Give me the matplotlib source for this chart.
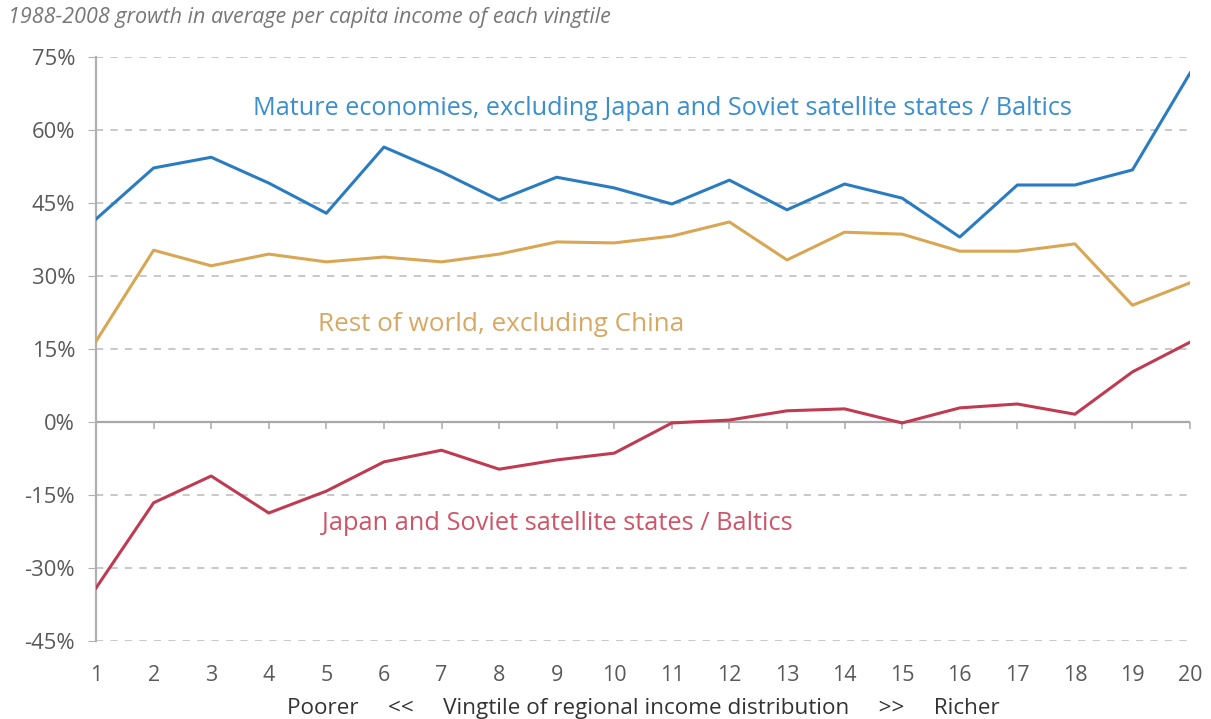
import matplotlib
matplotlib.use('Agg')
import matplotlib.pyplot as plt

# vingtiles of the regional income distribution
vingtiles = list(range(1, 21))

# growth 1988-2008 in %
mature = [41.7, 52.2, 54.4, 49.1, 42.9, 56.5, 51.4, 45.6, 50.3, 48.1,
          44.8, 49.7, 43.6, 48.9, 46.0, 38.0, 48.7, 48.7, 51.8, 71.7]
rest_world = [16.6, 35.3, 32.1, 34.5, 32.9, 33.9, 32.9, 34.5, 37.0, 36.8,
              38.2, 41.1, 33.3, 39.0, 38.6, 35.1, 35.1, 36.6, 24.0, 28.6]
japan_soviet = [-34.1, -16.6, -11.1, -18.7, -14.2, -8.2, -5.8, -9.7, -7.8, -6.4,
                -0.2, 0.4, 2.3, 2.7, -0.2, 2.9, 3.7, 1.6, 10.3, 16.4]

y_ticks = [-45, -30, -15, 0, 15, 30, 45, 60, 75]

plt.rcParams['font.family'] = ['Open Sans', 'DejaVu Sans']

fig = plt.figure(figsize=(12.11, 7.19), dpi=100)
ax = fig.add_axes([0.0793, 0.1085, 0.9034, 0.8122])

# grid: dashed lines, solid zero line
for t in y_ticks:
    if t == 0:
        ax.axhline(t, color='#a8a8a8', lw=1.6, zorder=1)
    else:
        ax.axhline(t, color='#c4c4c4', lw=1.3, ls=(0, (4, 4)), zorder=1)

ax.plot(vingtiles, mature, color='#2a7cc2', lw=2.2, zorder=3)
ax.plot(vingtiles, rest_world, color='#d9a653', lw=2.2, zorder=3)
ax.plot(vingtiles, japan_soviet, color='#c03a52', lw=2.2, zorder=3)

ax.text(3.73, 64.5, 'Mature economies, excluding Japan and Soviet satellite states / Baltics',
        color='#3a8fd0', fontsize=18.2, va='center', ha='left')
ax.text(4.86, 20.1, 'Rest of world, excluding China',
        color='#d8a862', fontsize=18.8, va='center', ha='left')
ax.text(4.92, -20.8, 'Japan and Soviet satellite states / Baltics',
        color='#d05468', fontsize=18.3, va='center', ha='left')

ax.set_xlim(1, 20)
ax.set_ylim(-45, 75)
ax.set_yticks(y_ticks)
ax.set_yticklabels([f'{t}%' for t in y_ticks])
ax.set_xticks(vingtiles)

for s in ['top', 'right', 'bottom']:
    ax.spines[s].set_visible(False)
ax.spines['left'].set_color('#b0b0b0')
ax.spines['left'].set_linewidth(1.6)

ax.tick_params(axis='y', length=6, color='#b0b0b0', labelsize=15.8, labelcolor='#5a5a5a', pad=9)
ax.tick_params(axis='x', length=0, labelsize=15.5, labelcolor='#5a5a5a', pad=17)

# small tick marks on the zero line
sec = ax.secondary_xaxis(45 / 120)
sec.set_xticks(vingtiles)
sec.tick_params(axis='x', length=5, color='#b0b0b0', width=1.2, labelbottom=False)
sec.spines['bottom'].set_visible(False)

ax.set_xlabel('Poorer     <<     Vingtile of regional income distribution     >>     Richer',
              fontsize=16.2, color='#333333', labelpad=9)

fig.text(0.007, 0.975, '1988-2008 growth in average per capita income of each vingtile',
         fontsize=15.5, style='italic', color='#777777', va='center', ha='left')

plt.savefig('out.png', dpi=100)
plt.close(fig)
